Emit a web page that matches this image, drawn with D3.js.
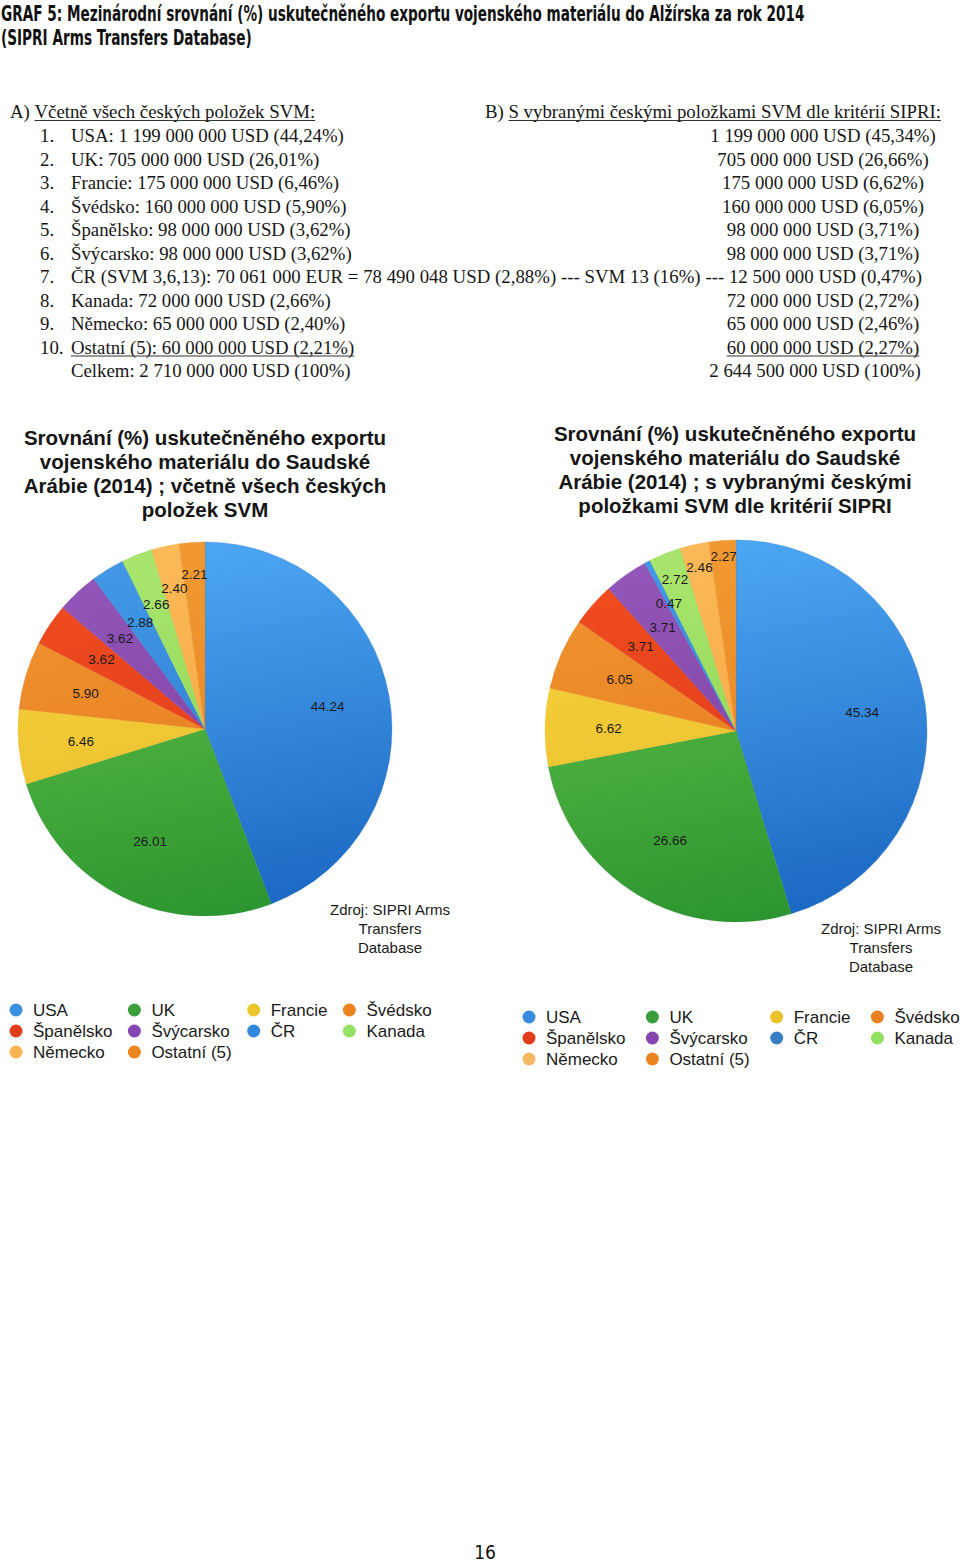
<!DOCTYPE html>
<html><head><meta charset="utf-8">
<script src="https://cdn.jsdelivr.net/npm/d3@7"></script>
<style>body{margin:0;background:#fff} svg{display:block}</style>
</head><body>
<svg id="c" width="960" height="1565"></svg>
<script>
// ---------- data ----------
const countries = ["USA","UK","Francie","Švédsko","Španělsko","Švýcarsko","ČR","Kanada","Německo","Ostatní (5)"];
const sharesA = [44.24,26.01,6.46,5.90,3.62,3.62,2.88,2.66,2.40,2.21];
const sharesB = [45.34,26.66,6.62,6.05,3.71,3.71,0.47,2.72,2.46,2.27];
const usdA = ["1 199 000 000","705 000 000","175 000 000","160 000 000","98 000 000","98 000 000","78 490 048","72 000 000","65 000 000","60 000 000"];
const usdB = ["1 199 000 000","705 000 000","175 000 000","160 000 000","98 000 000","98 000 000","12 500 000","72 000 000","65 000 000","60 000 000"];
const totalA = "2 710 000 000";
const totalB = "2 644 500 000";
const crLineA = "ČR (SVM 3,6,13): 70 061 000 EUR = 78 490 048 USD (2,88%) --- SVM 13 (16%) --- ";
const titleLines = ["GRAF 5: Mezinárodní srovnání (%) uskutečněného exportu vojenského materiálu do Alžírska za rok 2014","(SIPRI Arms Transfers Database)"];
const headA = ["A)\u00a0","Včetně všech českých položek SVM:"];
const headB = ["B)\u00a0","S vybranými českými položkami SVM dle kritérií SIPRI:"];
const chartTitleA = ["Srovnání (%) uskutečněného exportu","vojenského materiálu do Saudské","Arábie (2014) ; včetně všech českých","položek SVM"];
const chartTitleB = ["Srovnání (%) uskutečněného exportu","vojenského materiálu do Saudské","Arábie (2014) ; s vybranými českými","položkami SVM dle kritérií SIPRI"];
const sourceLines = ["Zdroj: SIPRI Arms","Transfers","Database"];
const pageNumber = "16";

// ---------- styles ----------
const topColors = ["#4ea8f4","#64c449","#f6d83c","#f29530","#f24e20","#9358ba","#4399e8","#aae66e","#fcba58","#f29a32"];
const botColors = ["#1b68c2","#2c9430","#e8b42a","#e2741c","#d8341a","#773a9e","#2774c8","#86cf4e","#f2a03a","#e07e1c"];
const legendColorsA = ["#3b8fe2","#3c9f3c","#ecc52c","#e9821f","#e33c1b","#8446b2","#3187de","#94e262","#fab454","#ea8520"];
const legendColorsB = ["#3a8ce0","#3a9c3a","#eac22c","#e7801e","#e23b1b","#8446b0","#3a7ec6","#92e060","#f5b862","#ea8520"];

const svg = d3.select("#c");
const defs = svg.append("defs");
const pct = v => d3.format(".2f")(v).replace(".", ",");

// ---------- page title (condensed) ----------
const titleFont = "'Liberation Sans Narrow','DejaVu Sans Condensed',Arial,sans-serif";
function condensed(x, y, s, width, capSize) {
  const t = svg.append("text").attr("font-family",titleFont).attr("font-weight","bold")
    .attr("font-size",capSize).attr("fill","#111").text(s);
  const L = t.node().getComputedTextLength();
  const f = capSize * width / L;
  t.attr("font-size", f).attr("transform", `translate(${x},${y}) scale(1,${capSize/f})`);
}
condensed(1, 21, titleLines[0], 804, 22);
condensed(1, 45, titleLines[1], 251, 22);

// ---------- text block ----------
const serif = "'Liberation Serif','Times New Roman',serif";
const fs = 18.8;
function stxt(x, y, s, anchor) {
  return svg.append("text").attr("x",x).attr("y",y).attr("font-family",serif).attr("font-size",fs)
    .attr("fill","#161616").attr("text-anchor",anchor||"start").text(s);
}
function underline(t) {
  const b = t.node().getBBox();
  const y = +t.attr("y") + 2.5;
  svg.append("line").attr("x1",b.x).attr("x2",b.x+b.width).attr("y1",y).attr("y2",y)
    .attr("stroke","#333").attr("stroke-width",1);
}
const rowY = d3.scaleLinear().domain([0,1]).range([142,165.5]);
let h = stxt(10,118,headA[0]);
underline(stxt(10 + h.node().getComputedTextLength(),118,headA[1]));
h = stxt(485,118,headB[0]);
underline(stxt(485 + h.node().getComputedTextLength(),118,headB[1]));

countries.forEach((c,i) => {
  const y = rowY(i);
  stxt(40, y, (i+1) + ".");
  if (i === 6) {
    const t = stxt(71, y, crLineA + usdB[i] + " USD (" + pct(sharesB[i]) + "%)");
    t.attr("textLength", 851).attr("lengthAdjust","spacing");
  } else {
    const t = stxt(71, y, c + ": " + usdA[i] + " USD (" + pct(sharesA[i]) + "%)");
    const t2 = stxt(823, y, usdB[i] + " USD (" + pct(sharesB[i]) + "%)", "middle");
    if (i === 9) { underline(t); underline(t2); }
  }
});
stxt(71, rowY(10), "Celkem: " + totalA + " USD (100%)");
stxt(815, rowY(10), totalB + " USD (100%)", "middle");

// ---------- pies ----------
const sans = "'Liberation Sans',Arial,Helvetica,sans-serif";
function drawPie(cx, cy, R, values, id) {
  const g = svg.append("g").attr("transform",`translate(${cx},${cy})`);
  const arcs = d3.pie().sort(null).value(d=>d)(values);
  const arc = d3.arc().innerRadius(0).outerRadius(R);
  arcs.forEach((a,i) => {
    const lg = defs.append("linearGradient").attr("id",id+"g"+i).attr("gradientUnits","userSpaceOnUse")
      .attr("x1",-R*0.2).attr("y1",-R).attr("x2",R*0.2).attr("y2",R);
    lg.append("stop").attr("offset","0%").attr("stop-color",topColors[i]);
    lg.append("stop").attr("offset","100%").attr("stop-color",botColors[i]);
  });
  g.selectAll("path").data(arcs).join("path").attr("d",arc)
    .attr("fill",(d,i)=>`url(#${id}g${i})`).attr("stroke",(d,i)=>botColors[i]).attr("stroke-width",0.3);
  // labels: pushed outward (never inward of the previous pushed label) until clear of earlier labels
  const placed = [];
  const r0 = R*0.667, minDist = 24, minDy = 11;
  let prevR = r0;
  arcs.forEach((a,i) => {
    const t = g.append("text").attr("font-family",sans).attr("font-size",13.5).attr("fill","#1a1a1a")
      .attr("text-anchor","middle").attr("dy","0.35em").text(d3.format(".2f")(a.data));
    const w = t.node().getComputedTextLength();
    const mid = (a.startAngle + a.endAngle)/2;
    let r = Math.max(r0, prevR), x, y;
    for (;;) {
      x = Math.sin(mid)*r; y = -Math.cos(mid)*r;
      const hit = placed.some(p => {
        const dx = Math.abs(p.x-x), dy = Math.abs(p.y-y);
        return (dx < (p.w+w)/2 && dy < minDy) || Math.hypot(dx,dy) < minDist;
      });
      if (!hit) break;
      r += 1;
    }
    prevR = r;
    placed.push({x,y,w});
    t.attr("x",x).attr("y",y);
  });
}
drawPie(205, 729, 187, sharesA, "pa");
drawPie(736, 731, 191, sharesB, "pb");

// ---------- chart titles ----------
function ctitle(lines, cx, y0) {
  lines.forEach((l,i) => svg.append("text").attr("x",cx).attr("y",y0+i*24).attr("text-anchor","middle")
    .attr("font-family",sans).attr("font-weight","bold").attr("font-size",20.5).attr("fill","#151515").text(l));
}
ctitle(chartTitleA, 205, 445);
ctitle(chartTitleB, 735, 441);

// ---------- sources ----------
function source(cx, y0) {
  sourceLines.forEach((l,i) => svg.append("text").attr("x",cx).attr("y",y0+i*19).attr("text-anchor","middle")
    .attr("font-family",sans).attr("font-size",15).attr("fill","#1a1a1a").text(l));
}
source(390, 915);
source(881, 934);

// ---------- legends ----------
function legend(x0, y0, colors, gap) {
  const g = svg.append("g");
  const cols = 4;
  const tmp = g.append("text").attr("font-family",sans).attr("font-size",17);
  const widths = countries.map(c => { tmp.text(c); return tmp.node().getComputedTextLength(); });
  tmp.remove();
  const colW = d3.range(cols).map(c => d3.max(widths.filter((d,i)=>i%cols===c)));
  const colX = [0]; for (let c=1;c<cols;c++) colX.push(colX[c-1] + 17 + colW[c-1] + gap);
  countries.forEach((c,i) => {
    const x = x0 + colX[i%cols], y = y0 + Math.floor(i/cols)*21;
    g.append("circle").attr("cx",x).attr("cy",y).attr("r",6.5).attr("fill",colors[i]);
    g.append("text").attr("x",x+17).attr("y",y).attr("dy","0.35em").attr("font-family",sans)
      .attr("font-size",17).attr("fill","#1a1a1a").text(c);
  });
}
legend(16, 1010, legendColorsA, 22);
legend(529, 1017, legendColorsB, 27);

// ---------- page number ----------
svg.append("text").attr("x",485).attr("y",1559).attr("text-anchor","middle").attr("font-family",titleFont)
  .attr("font-size",19).attr("fill","#111").text(pageNumber);
</script>
</body></html>
